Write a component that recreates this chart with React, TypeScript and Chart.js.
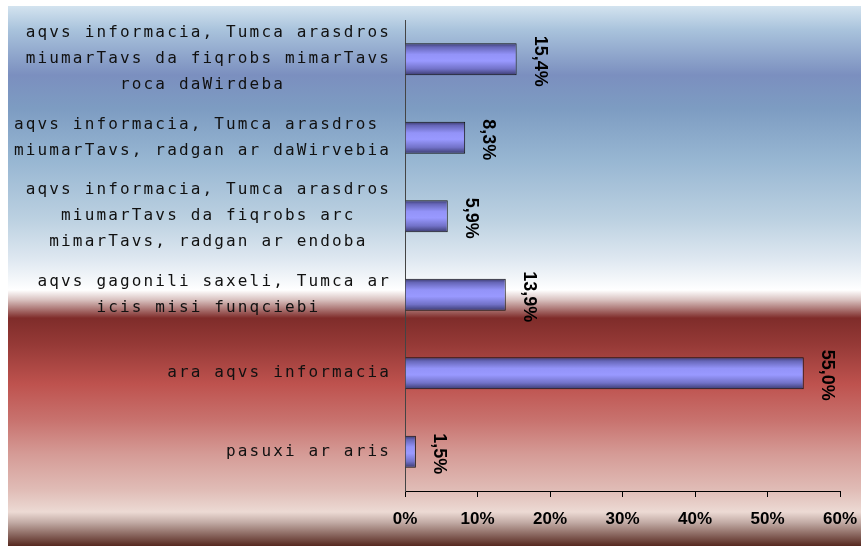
import React, { useEffect, useRef } from 'react';
import { Chart, registerables } from 'chart.js';

Chart.register(...registerables);

const categories: string[][] = [
  ['aqvs informacia, Tumca arasdros', 'miumarTavs da fiqrobs mimarTavs', 'roca daWirdeba'],
  ['aqvs informacia, Tumca arasdros', 'miumarTavs, radgan ar daWirvebia'],
  ['aqvs informacia, Tumca arasdros', 'miumarTavs da fiqrobs arc', 'mimarTavs, radgan ar endoba'],
  ['aqvs gagonili saxeli, Tumca ar', 'icis misi funqciebi'],
  ['ara aqvs informacia'],
  ['pasuxi ar aris'],
];
const values: number[] = [15.4, 8.3, 5.9, 13.9, 55.0, 1.5];
const xTickValues: number[] = [0, 10, 20, 30, 40, 50, 60];

const W = 853;
const H = 540;
const BAR_PCT = 0.41;

// center each line inside its block (monospace font), block stays right-aligned
function centerLines(lines: string[]): string[] {
  const max = Math.max(...lines.map((l) => l.length));
  return lines.map((l) => l + ' '.repeat(Math.round((max - l.length) / 2)));
}

const bgStops: [number, string][] = [
  [0, '#d3e3ef'],
  [0.044, '#a9c3dc'],
  [0.128, '#7b8fbf'],
  [0.19, '#7d9cc2'],
  [0.285, '#97b6d2'],
  [0.396, '#bcd1e1'],
  [0.47, '#dfe8f1'],
  [0.526, '#ffffff'],
  [0.544, '#d9c2c0'],
  [0.578, '#7f2c2a'],
  [0.628, '#963a37'],
  [0.7, '#be524e'],
  [0.767, '#c8726e'],
  [0.83, '#d59b96'],
  [0.896, '#e0bcb6'],
  [0.937, '#ecdad4'],
  [0.956, '#c3aca6'],
  [1, '#56281f'],
];

const barStops: [number, string][] = [
  [0, '#38386a'],
  [0.12, '#6666b8'],
  [0.35, '#9393f8'],
  [0.55, '#9999ff'],
  [0.8, '#7272c8'],
  [1, '#38386c'],
];

const fmt = (v: number) => v.toFixed(1).replace('.', ',') + '%';

const bgPlugin = {
  id: 'bgAndSpacing',
  beforeDraw(chart: any) {
    const ctx = chart.ctx as CanvasRenderingContext2D;
    const g = ctx.createLinearGradient(0, 0, 0, chart.height);
    bgStops.forEach(([o, c]) => g.addColorStop(o, c));
    ctx.save();
    ctx.fillStyle = g;
    ctx.fillRect(0, 0, chart.width, chart.height);
    ctx.restore();
    (ctx as any).letterSpacing = '2.15px';
  },
  beforeDatasetsDraw(chart: any) {
    (chart.ctx as any).letterSpacing = '0px';
  },
  afterDatasetsDraw(chart: any) {
    const ctx = chart.ctx as CanvasRenderingContext2D;
    const meta = chart.getDatasetMeta(0);
    ctx.save();
    (ctx as any).letterSpacing = '0px';
    ctx.fillStyle = '#000';
    ctx.font = 'bold 18px "Liberation Sans", Arial, sans-serif';
    ctx.textAlign = 'center';
    ctx.textBaseline = 'middle';
    meta.data.forEach((el: any, i: number) => {
      ctx.save();
      ctx.translate(el.x + 23, el.y + 2);
      ctx.rotate(Math.PI / 2);
      ctx.fillText(fmt(values[i]), 0, 0);
      ctx.restore();
    });
    ctx.restore();
  },
};

export default function App() {
  const ref = useRef<HTMLCanvasElement | null>(null);

  useEffect(() => {
    if (!ref.current) return;
    const chart = new Chart(ref.current, {
      type: 'bar',
      data: {
        labels: categories.map(centerLines),
        datasets: [
          {
            data: values,
            backgroundColor: (c: any) => {
              const ch = c.chart;
              const ys = ch.scales && ch.scales.y;
              if (!ys || c.type !== 'data') return '#9999ff';
              const center = ys.getPixelForValue(c.dataIndex);
              const band = (ys.bottom - ys.top) / categories.length;
              const h = band * BAR_PCT;
              if (!isFinite(center) || !isFinite(h) || h <= 0) return '#9999ff';
              const g = ch.ctx.createLinearGradient(0, center - h / 2, 0, center + h / 2);
              barStops.forEach(([o, col]) => g.addColorStop(o, col));
              return g;
            },
            borderColor: '#111',
            borderWidth: 1,
            barPercentage: BAR_PCT,
            categoryPercentage: 1,
          },
        ],
      },
      options: {
        indexAxis: 'y',
        responsive: false,
        animation: false,
        layout: { padding: { top: 14, right: 21, left: 0, bottom: 0 } },
        plugins: {
          legend: { display: false },
          tooltip: { enabled: false },
          title: { display: false },
        },
        scales: {
          x: {
            min: 0,
            max: 60,
            afterBuildTicks: (s: any) => {
              s.ticks = xTickValues.map((v) => ({ value: v }));
            },
            afterFit: (s: any) => {
              s.height = 55;
              s.paddingLeft = 0;
              s.paddingRight = 0;
            },
            grid: {
              display: true,
              drawOnChartArea: false,
              drawTicks: true,
              tickLength: 6,
              color: '#000',
            },
            border: { display: true, color: '#000', width: 1 },
            ticks: {
              z: 1,
              padding: 12,
              color: '#000',
              maxRotation: 0,
              font: { family: '"Liberation Sans", Arial, sans-serif', size: 17, weight: 'bold' },
              callback: (v: any) => v + '%',
            },
          },
          y: {
            afterFit: (s: any) => {
              s.width = 397;
              s.paddingTop = 0;
              s.paddingBottom = 0;
            },
            grid: { display: false },
            border: { display: true, color: '#444', width: 1 },
            ticks: {
              z: -1,
              padding: 6,
              color: '#111',
              crossAlign: 'near',
              autoSkip: false,
              font: { family: '"DejaVu Sans Mono", monospace', size: 16, lineHeight: 1.625 },
            },
          },
        },
      } as any,
      plugins: [bgPlugin],
    });
    return () => chart.destroy();
  }, []);

  return (
    <canvas
      ref={ref}
      width={W}
      height={H}
      style={{ position: 'absolute', left: 8, top: 6, width: W, height: H, display: 'block' }}
    />
  );
}
